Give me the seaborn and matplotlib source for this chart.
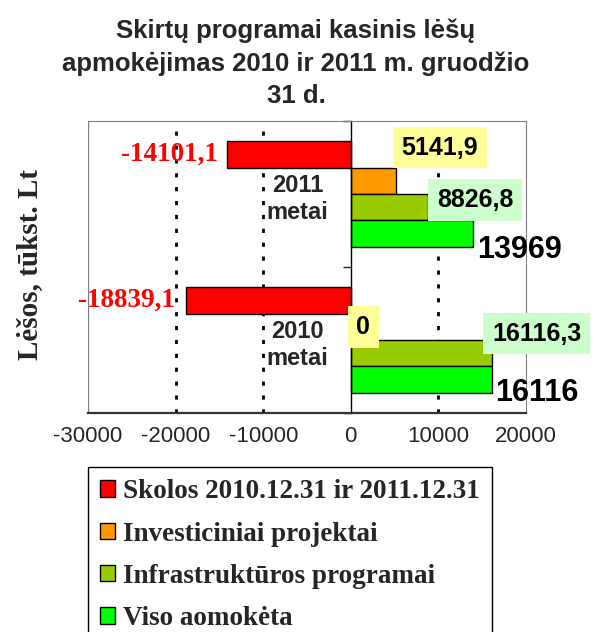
import matplotlib
matplotlib.use('Agg')
import pandas as pd
import seaborn as sns
import matplotlib.pyplot as plt
from matplotlib.patches import Patch

# data
years = ['2011\nmetai', '2010\nmetai']
series_names = ['Skolos 2010.12.31 ir 2011.12.31', 'Investiciniai projektai',
                'Infrastruktūros programai', 'Viso aomokėta']
skolos = [-14101.1, -18839.1]
investiciniai = [5141.9, 0]
infrastruktura = [8826.8, 16116.3]
viso = [13969, 16116]
x_ticks = [-30000, -20000, -10000, 0, 10000, 20000]

colors = ['#FF0000', '#FF9900', '#99CC00', '#00FF00']
series_values = [skolos, investiciniai, infrastruktura, viso]

rows = []
for name, vals in zip(series_names, series_values):
    for yr, v in zip(years, vals):
        rows.append({'metai': yr, 'serija': name, 'value': v})
df = pd.DataFrame(rows)

sns.set_style('white')
plt.rcParams['font.family'] = ['Liberation Sans', 'DejaVu Sans']

fig = plt.figure(figsize=(5.97, 6.32), dpi=100)
ax = fig.add_axes([88 / 597, 1 - 413 / 632, 438 / 597, 292 / 632])

sns.barplot(data=df, y='metai', x='value', hue='serija', orient='h',
            order=years, hue_order=series_names, palette=colors,
            saturation=1, width=0.72, gap=0, edgecolor='black', linewidth=1,
            legend=False, ax=ax, zorder=2)

ax.set_xlim(x_ticks[0], x_ticks[-1])
ax.set_ylim(1.5, -0.5)
ax.set_xticks(x_ticks)
ax.set_xticklabels([str(t) for t in x_ticks], fontsize=16)
ax.set_xlabel('')

# frame
for v in x_ticks[1:-1]:
    if v != 0:
        ax.axvline(v, color='black', linestyle=(0, (1.5, 3.5)), lw=2, zorder=0.5)
ax.axvline(x_ticks[0], color='#808080', lw=1, zorder=0.6)
ax.spines['top'].set_color('#808080')
ax.spines['right'].set_color('#808080')
ax.spines['left'].set_position(('data', 0))
ax.spines['left'].set_color('black')
ax.spines['left'].set_linewidth(1)
ax.spines['bottom'].set_color('#333333')
ax.spines['bottom'].set_linewidth(1.6)
ax.tick_params(axis='x', direction='out', length=6, width=1.2, color='#333333', pad=3)

# category labels and boundary ticks
ax.set_yticks([0, 1])
ax.set_yticklabels(years, fontsize=17, fontweight='bold', linespacing=1.25)
plt.setp(ax.get_yticklabels(), multialignment='center', va='center_baseline')
ax.set_yticks([-0.5, 0.5, 1.5], minor=True)
ax.tick_params(axis='y', which='major', length=0, pad=16)
ax.tick_params(axis='y', which='minor', length=6, width=1, direction='out', left=True)

ax.set_ylabel('Lėšos, tūkst. Lt', fontsize=21, fontweight='bold', family='Liberation Serif')
ax.yaxis.set_label_coords(-0.103, 0.51)

# data labels
label_offsets = [
    [(-7, 0), (-8, 0)],
    [(4, 24), (4, 0)],
    [(6.5, 5), (0, 14)],
    [(3, -12), (2, -9.5)],
]
for si, container in enumerate(ax.containers):
    for bar in container:
        yc = bar.get_y() + bar.get_height() / 2
        xe = bar.get_x() + bar.get_width()
        ci = int(round(yc))
        txt = f"{series_values[si][ci]:g}".replace('.', ',')
        off = label_offsets[si][ci]
        if si == 0:
            ax.annotate(txt, (xe, yc), xytext=off, textcoords='offset points',
                        ha='right', va='center', color='red', fontsize=19.5,
                        fontweight='bold', family='Liberation Serif')
        elif si == 3:
            ax.annotate(txt, (xe, yc), xytext=off, textcoords='offset points',
                        ha='left', va='center', color='black', fontsize=22,
                        fontweight='bold', annotation_clip=False)
        else:
            bg = '#FFFF99' if si == 1 else '#CCFFCC'
            ax.annotate(txt, (xe, yc), xytext=off, textcoords='offset points',
                        ha='left', va='center', color='black', fontsize=18,
                        fontweight='bold', annotation_clip=False, zorder=3,
                        bbox=dict(boxstyle='square,pad=0.35', fc=bg, ec='none'))

# title
fig.text(296 / 597, 1 - 63 / 632,
         'Skirtų programai kasinis lėšų\napmokėjimas 2010 ir 2011 m. gruodžio\n31 d.',
         ha='center', va='center', fontsize=18.5, fontweight='bold', linespacing=1.42)

# legend
handles = [Patch(facecolor=c, edgecolor='black', lw=1) for c in colors]
leg = fig.legend(handles, series_names, loc='upper left',
                 bbox_to_anchor=(88 / 597, 1 - 467 / 632), bbox_transform=fig.transFigure,
                 frameon=True, fancybox=False, edgecolor='black', framealpha=1,
                 borderaxespad=0, borderpad=0.45, handlelength=0.55, handleheight=0.55,
                 handletextpad=0.3, labelspacing=0.64,
                 prop={'family': 'Liberation Serif', 'weight': 'bold', 'size': 19.5})
leg.get_frame().set_linewidth(1)

fig.savefig('out.png', dpi=100)
